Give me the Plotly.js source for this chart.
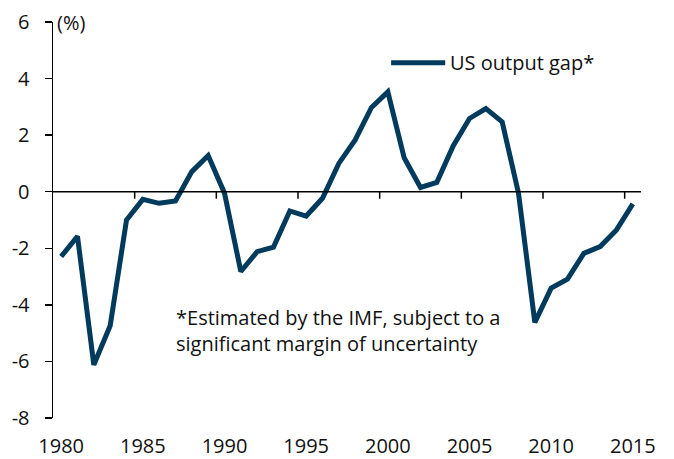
<!DOCTYPE html>
<html>
<head>
<meta charset="utf-8">
<script src="https://cdn.plot.ly/plotly-3.0.1.min.js"></script>
<style>html,body{margin:0;padding:0;background:#fff;}#chart{width:674px;height:459px;}</style>
</head>
<body>
<div id="chart"></div>
<script>
const years = [1980,1981,1982,1983,1984,1985,1986,1987,1988,1989,1990,1991,1992,1993,1994,1995,1996,1997,1998,1999,2000,2001,2002,2003,2004,2005,2006,2007,2008,2009,2010,2011,2012,2013,2014,2015];
const outputGap = [-2.29,-1.58,-6.12,-4.74,-1.0,-0.27,-0.41,-0.33,0.71,1.28,-0.05,-2.82,-2.12,-1.96,-0.68,-0.86,-0.23,1.0,1.83,2.98,3.53,1.2,0.15,0.33,1.62,2.59,2.94,2.47,-0.05,-4.62,-3.41,-3.09,-2.18,-1.94,-1.35,-0.43];
const xTickLabels = ['1980','1985','1990','1995','2000','2005','2010','2015'];
const yTickVals = [-8,-6,-4,-2,0,2,4,6];
const yTickText = ['-8','-6','-4','-2','0','2','4','6'];
const seriesName = 'US output gap*';
const noteText = '*Estimated by the IMF, subject to a<br>significant margin of uncertainty';
const unitText = '(%)';

const lineColor = '#003a5c';
const font = 'Open Sans, Noto Sans, sans-serif';
const textColor = '#111111';
const fs = 20;

const xMin = years[0] - 0.5, xMax = years[years.length - 1] + 0.5;
const xTickVals = xTickLabels.map(Number);

const shapes = [];
// horizontal axis along zero
shapes.push({type:'line', xref:'x', yref:'y', x0:xMin, x1:xMax, y0:0, y1:0, line:{color:'#000', width:1.5}});
// category-boundary tick marks
xTickVals.slice(1).forEach(v => {
  shapes.push({type:'line', xref:'x', yref:'y', ysizemode:'pixel', yanchor:0, x0:v-0.5, x1:v-0.5, y0:0, y1:-7, line:{color:'#000', width:1.5}});
});
// legend line
shapes.push({type:'line', xref:'paper', yref:'paper', x0:0.575, x1:0.667, y0:0.897, y1:0.897, line:{color:lineColor, width:5}});

const trace = {
  x: years, y: outputGap, type:'scatter', mode:'lines', name: seriesName,
  line:{color:lineColor, width:5, shape:'linear'}, showlegend:false, hoverinfo:'x+y'
};

const layout = {
  width:674, height:459,
  margin:{l:53, r:33, t:22, b:41, pad:0},
  paper_bgcolor:'#fff', plot_bgcolor:'#fff',
  font:{family:font, size:fs, color:textColor},
  showlegend:false,
  xaxis:{range:[xMin, xMax], tickvals:xTickVals, ticktext:xTickLabels, ticks:'', showline:false, showgrid:false, zeroline:false, tickfont:{size:fs, color:textColor}, ticklabelstandoff:14, fixedrange:true},
  yaxis:{range:[-8,6], tickvals:yTickVals, ticktext:yTickText, ticks:'outside', ticklen:7, tickwidth:1.5, tickcolor:'#000', showline:true, linecolor:'#000', linewidth:1.5, showgrid:false, zeroline:false, tickfont:{size:fs, color:textColor}, ticklabelstandoff:11, fixedrange:true},
  shapes: shapes,
  annotations:[
    {text:unitText, xref:'paper', yref:'y', x:0.004, y:6, xanchor:'left', yanchor:'middle', showarrow:false, font:{size:fs, color:textColor}},
    {text:seriesName, xref:'paper', yref:'paper', x:0.671, y:0.897, xanchor:'left', yanchor:'middle', showarrow:false, font:{size:fs, color:textColor}},
    {text:noteText, xref:'paper', yref:'paper', x:0.205, y:0.222, xanchor:'left', yanchor:'middle', align:'left', showarrow:false, font:{size:fs, color:textColor}}
  ]
};

Plotly.newPlot('chart', [trace], layout, {displayModeBar:false, staticPlot:true});
</script>
</body>
</html>
